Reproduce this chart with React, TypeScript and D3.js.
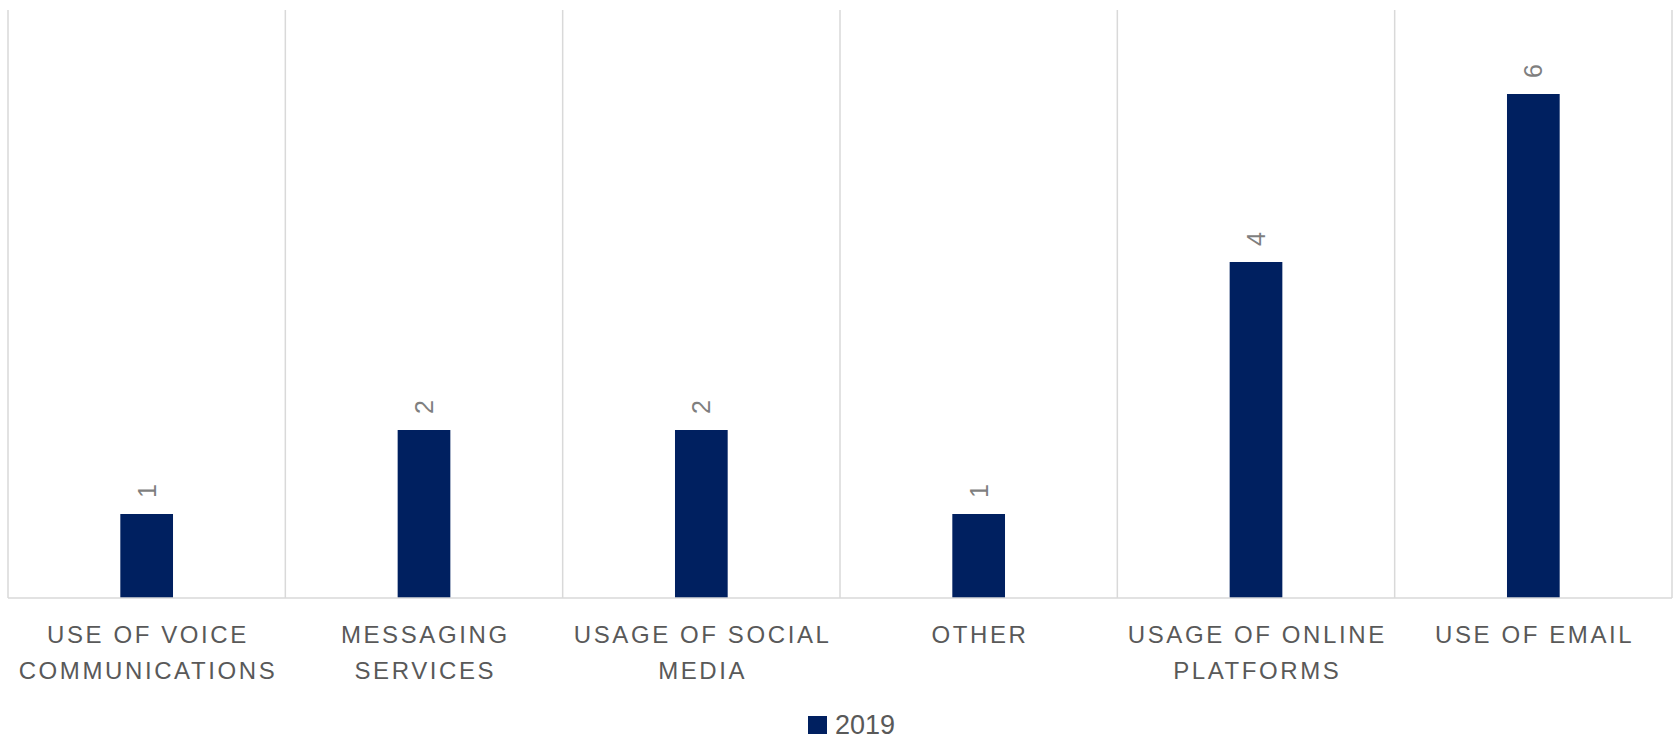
import React from 'react';
import * as d3 from 'd3';

const categories = [
    ['USE OF VOICE', 'COMMUNICATIONS'],
    ['MESSAGING', 'SERVICES'],
    ['USAGE OF SOCIAL', 'MEDIA'],
    ['OTHER'],
    ['USAGE OF ONLINE', 'PLATFORMS'],
    ['USE OF EMAIL'],
];
const values2019 = [1, 2, 2, 1, 4, 6];
const seriesName = '2019';

function App() {
    const width = 1675;
    const height = 737;
    const margin = {top: 10, left: 8, right: 3, bottom: 139};
    const plotBottom = height - margin.bottom;
    const barColor = '#002060';
    const gridColor = '#d9d9d9';
    const font = '"Liberation Sans", Arial, sans-serif';
    const spacing = 2.6;

    const x = d3.scaleBand<number>()
        .domain(d3.range(categories.length))
        .range([margin.left, width - margin.right]);
    const y = d3.scaleLinear()
        .domain([0, 7])
        .range([plotBottom, margin.top]);
    const barW = x.bandwidth() * 0.19;

    const gridXs = d3.range(categories.length + 1).map(i =>
        i < categories.length ? (x(i) as number) : (x(i - 1) as number) + x.bandwidth());

    return (
        <svg width={width} height={height}
             style={{position: 'absolute', left: 0, top: 0, display: 'block', background: '#fff'}}>
            {gridXs.map((gx, i) => (
                <line key={'g' + i} x1={gx} x2={gx} y1={margin.top} y2={plotBottom}
                      stroke={gridColor} strokeWidth={1.5}/>
            ))}
            {values2019.map((v, i) => {
                const cx = (x(i) as number) + x.bandwidth() / 2;
                return (
                    <g key={'b' + i}>
                        <rect x={cx - barW / 2} y={y(v)} width={barW} height={plotBottom - y(v)}
                              fill={barColor}/>
                        <text transform={`translate(${cx},${y(v) - 23}) rotate(-90)`}
                              textAnchor="middle" dominantBaseline="central"
                              fontFamily={font} fontSize={25} fill="#7f7f7f">{v}</text>
                    </g>
                );
            })}
            <line x1={margin.left} x2={width - margin.right} y1={plotBottom} y2={plotBottom}
                  stroke={gridColor} strokeWidth={1.5}/>
            {categories.map((lines, i) => {
                const cx = (x(i) as number) + x.bandwidth() / 2;
                return (
                    <text key={'c' + i} textAnchor="middle" fontFamily={font} fontSize={24}
                          fill="#595959" style={{letterSpacing: `${spacing}px`}}>
                        {lines.map((t, j) => (
                            <tspan key={j} x={cx + spacing / 2} y={643 + j * 36}>{t}</tspan>
                        ))}
                    </text>
                );
            })}
            <rect x={808} y={716} width={19} height={18} fill={barColor}/>
            <text x={835} y={734} fontFamily={font} fontSize={27} fill="#595959">{seriesName}</text>
        </svg>
    );
}

export default App;
